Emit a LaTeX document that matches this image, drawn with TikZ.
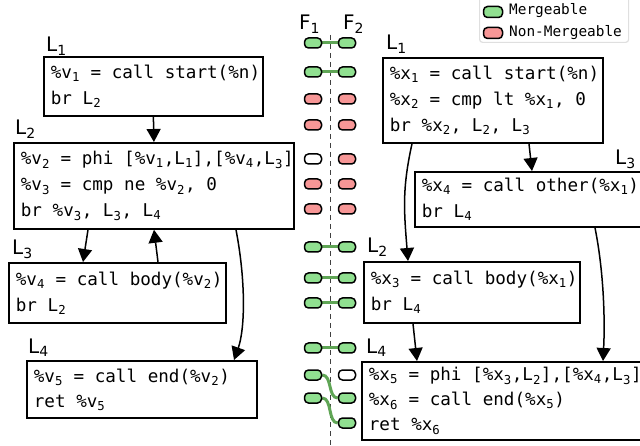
\documentclass[tikz,border=0pt]{standalone}
\usepackage{fontspec}
\setmainfont{DejaVu Sans}
\newfontfamily\codefont{DejaVu Sans Mono}
\usetikzlibrary{arrows.meta,backgrounds}
\definecolor{pgreen}{RGB}{144,224,144}
\definecolor{pred}{RGB}{247,150,150}
\definecolor{plink}{RGB}{95,165,85}
\newcommand\cl[1]{\mbox{#1}}
\newcommand\subs[1]{\textsubscript{#1}}
\tikzset{
  codebox/.style={draw, line width=1.8pt, anchor=north west, inner xsep=7pt, inner ysep=2pt,
    align=left, font=\codefont\fontsize{17.6}{26}\selectfont,
    execute at begin node={\spaceskip=0.602em\relax}},
  tight/.style={font=\codefont\fontsize{17.6}{25}\selectfont},
  lab/.style={anchor=base west, inner sep=0pt, font=\fontsize{20}{22}\selectfont},
  pill/.style={draw, line width=1.5pt, rounded corners=4pt, minimum width=17pt,
    minimum height=10pt, inner sep=0pt},
  pg/.style={pill, fill=pgreen},
  pr/.style={pill, fill=pred},
  pw/.style={pill, fill=white},
  link/.style={draw=plink, line width=3pt},
  arr/.style={-{Triangle[width=14pt,length=13pt]}, line width=1.5pt},
  legtext/.style={anchor=west, inner sep=0pt, font=\codefont\fontsize{14.4}{16}\selectfont}
}
\begin{document}
\begin{tikzpicture}[x=1pt,y=-1pt]
\clip (0,0) rectangle (640,446);

% legend
\node[draw=gray!25, line width=1.2pt, rounded corners=3pt, minimum width=149pt,
  minimum height=52pt, anchor=south west, inner sep=0pt] (legend) at (479,43) {};
\node[pg, minimum width=19pt, minimum height=11pt] (lgg) at (493,12) {};
\node[pr, minimum width=19pt, minimum height=11pt] (lgr) at (493,33) {};
\node[legtext] (lgt1) at (509,11) {Mergeable};
\node[legtext] (lgt2) at (509,33) {Non-Mergeable};

% divider
\coordinate (dtop) at (330,35);
\coordinate (dbot) at (330,446);
\begin{pgfonlayer}{background}
\draw[dash pattern=on 5pt off 4pt, line width=1pt, black!75] (dtop) -- (dbot);
\end{pgfonlayer}

\node[lab] (f1) at (299,30) {F\subs{1}};
\node[lab] (f2) at (343,30) {F\subs{2}};

% left function
\node[codebox, text width=205pt, minimum height=59pt] (bl1) at (43,56)
  {\cl{\%v\subs{1} = call start(\%n)}\\\cl{br L\subs{2}}};
\node[codebox, text width=266pt, minimum height=86pt] (bl2) at (13,142)
  {\cl{\%v\subs{2} = phi [\%v\subs{1},L\subs{1}],[\%v\subs{4},L\subs{3}]}\\\cl{\%v\subs{3} = cmp ne \%v\subs{2}, 0}\\\cl{br \%v\subs{3}, L\subs{3}, L\subs{4}}};
\node[codebox, text width=203pt, minimum height=60pt] (bl3) at (8,262)
  {\cl{\%v\subs{4} = call body(\%v\subs{2})}\\\cl{br L\subs{2}}};
\node[codebox, tight, text width=216pt, minimum height=57pt] (bl4) at (26,360)
  {\cl{\%v\subs{5} = call end(\%v\subs{2})}\\\cl{ret \%v\subs{5}}};

\node[lab] (ll1) at (46,52) {L\subs{1}};
\node[lab] (ll2) at (15,135) {L\subs{2}};
\node[lab] (ll3) at (12,255) {L\subs{3}};
\node[lab] (ll4) at (28,353) {L\subs{4}};

% right function
\node[codebox, text width=206pt, minimum height=85pt] (br1) at (382,57)
  {\cl{\%x\subs{1} = call start(\%n)}\\\cl{\%x\subs{2} = cmp lt \%x\subs{1}, 0}\\\cl{br \%x\subs{2}, L\subs{2}, L\subs{3}}};
\node[codebox, text width=236pt, minimum height=55pt] (br3) at (414,171)
  {\cl{\%x\subs{4} = call other(\%x\subs{1})}\\\cl{br L\subs{4}}};
\node[codebox, text width=202pt, minimum height=61pt] (br2) at (363,261)
  {\cl{\%x\subs{3} = call body(\%x\subs{1})}\\\cl{br L\subs{4}}};
\node[codebox, tight, text width=286pt, minimum height=78pt] (br4) at (361,361)
  {\cl{\%x\subs{5} = phi [\%x\subs{3},L\subs{2}],[\%x\subs{4},L\subs{3}]}\\\cl{\%x\subs{6} = call end(\%x\subs{5})}\\\cl{ret \%x\subs{6}}};

\node[lab] (rl1) at (386,50) {L\subs{1}};
\node[lab] (rl3) at (615,165) {L\subs{3}};
\node[lab] (rl2) at (367,253) {L\subs{2}};
\node[lab] (rl4) at (366,353) {L\subs{4}};

% arrows
\draw[arr] (bl1.south) -- (bl2.north);
\draw[arr] ([xshift=75pt]bl2.south west) -- ([xshift=75pt]bl3.north west);
\draw[arr] ([xshift=150pt]bl3.north west) -- ([xshift=141pt]bl2.south west);
\draw[arr] ([xshift=223pt]bl2.south west) .. controls +(10,52) and +(11,-31) .. ([xshift=208pt]bl4.north west);
\draw[arr] ([xshift=30pt]br1.south west) .. controls +(-10,45) and +(-4,-50) .. ([xshift=45pt]br2.north west);
\draw[arr] ([xshift=147pt]br1.south west) -- ([xshift=118pt]br3.north west);
\draw[arr] ([xshift=50pt]br2.south west) -- ([xshift=56pt]br4.north west);
\draw[arr] ([xshift=181pt]br3.south west) .. controls +(9,45) and +(2,-40) .. ([xshift=242pt]br4.north west);

% pills
\node[pg] (a1) at (313,43) {};  \node[pg] (b1) at (347,43) {};
\node[pg] (a2) at (313,72) {};  \node[pg] (b2) at (347,72) {};
\node[pr] (a3) at (313,99) {};  \node[pr] (b3) at (347,99) {};
\node[pr] (a4) at (313,125) {}; \node[pr] (b4) at (347,125) {};
\node[pw] (a5) at (313,159) {}; \node[pr] (b5) at (347,159) {};
\node[pr] (a6) at (313,184) {}; \node[pr] (b6) at (347,184) {};
\node[pr] (a7) at (313,209) {}; \node[pr] (b7) at (347,209) {};
\node[pg] (a8) at (313,247) {}; \node[pg] (b8) at (347,247) {};
\node[pg] (a9) at (313,278) {}; \node[pg] (b9) at (347,278) {};
\node[pg] (a10) at (313,303) {}; \node[pg] (b10) at (347,303) {};
\node[pg] (a11) at (313,348) {}; \node[pg] (b11) at (347,348) {};
\node[pg] (a12) at (313,375) {}; \node[pw] (b12) at (347,375) {};
\node[pg] (a13) at (313,398) {}; \node[pg] (b13) at (347,398) {};
\node[pg] (b14) at (347,423) {};

\begin{pgfonlayer}{background}
\foreach \i in {1,2,8,9,10,11} {
  \draw[link] (a\i.east) -- (b\i.west);
}
\draw[link] (a12.east) .. controls +(10,0) and +(-10,0) .. (b13.west);
\draw[link] (a13.east) .. controls +(10,0) and +(-10,0) .. (b14.west);
\end{pgfonlayer}
\end{tikzpicture}
\end{document}
